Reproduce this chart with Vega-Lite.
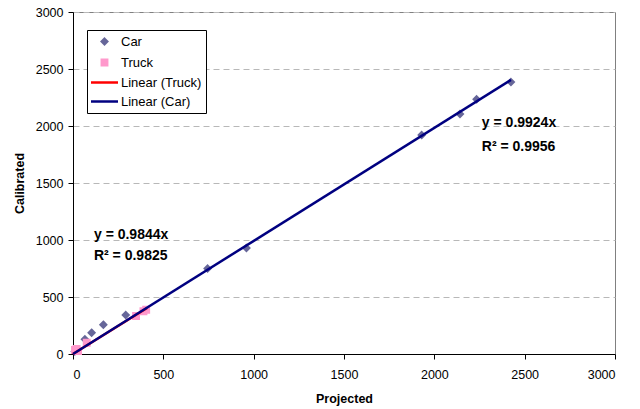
{
  "$schema": "https://vega.github.io/schema/vega-lite/v6.json",
  "width": 542,
  "height": 342,
  "autosize": {"type": "none"},
  "padding": {"left": 73, "top": 12, "right": 25, "bottom": 55},
  "background": "white",
  "config": {
    "font": "Liberation Sans",
    "view": {"stroke": "#808080", "strokeWidth": 1},
    "axis": {
      "labelFont": "Liberation Sans",
      "labelFontSize": 12.5,
      "labelColor": "black",
      "titleFont": "Liberation Sans",
      "titleFontSize": 12.5,
      "titleFontWeight": "bold",
      "titleColor": "black",
      "domainColor": "black",
      "tickColor": "black",
      "tickSize": 5,
      "format": "d"
    },
    "legend": {
      "title": null,
      "orient": "none",
      "legendX": 14,
      "legendY": 18,
      "symbolSize": 144,
      "symbolStrokeWidth": 2.5,
      "labelFontSize": 13,
      "labelFont": "Liberation Sans",
      "labelColor": "black",
      "strokeColor": "black",
      "fillColor": "white",
      "padding": 4,
      "rowPadding": 4,
      "symbolOffset": 6,
      "labelOffset": 9
    }
  },
  "datasets": {
    "pts": [
      {"series": "Car", "projected": 10, "calibrated": 22},
      {"series": "Car", "projected": 66, "calibrated": 129},
      {"series": "Car", "projected": 103, "calibrated": 187},
      {"series": "Car", "projected": 168, "calibrated": 257},
      {"series": "Car", "projected": 292, "calibrated": 342},
      {"series": "Car", "projected": 745, "calibrated": 750},
      {"series": "Car", "projected": 960, "calibrated": 930},
      {"series": "Car", "projected": 1930, "calibrated": 1921},
      {"series": "Car", "projected": 2142, "calibrated": 2105},
      {"series": "Car", "projected": 2234, "calibrated": 2234},
      {"series": "Car", "projected": 2424, "calibrated": 2386},
      {"series": "Truck", "projected": 11, "calibrated": 35},
      {"series": "Truck", "projected": 28, "calibrated": 26},
      {"series": "Truck", "projected": 20, "calibrated": 45},
      {"series": "Truck", "projected": 76, "calibrated": 99},
      {"series": "Truck", "projected": 349, "calibrated": 333},
      {"series": "Truck", "projected": 390, "calibrated": 375},
      {"series": "Truck", "projected": 405, "calibrated": 388}
    ],
    "lines": [
      {"series": "Linear (Truck)", "projected": 0, "calibrated": 0},
      {"series": "Linear (Truck)", "projected": 410, "calibrated": 404},
      {"series": "Linear (Car)", "projected": 0, "calibrated": 0},
      {"series": "Linear (Car)", "projected": 2424, "calibrated": 2405}
    ],
    "labels": [
      {"projected": 116, "calibrated": 1044, "text": "y = 0.9844x"},
      {"projected": 116, "calibrated": 860, "text": "R² = 0.9825"},
      {"projected": 2263, "calibrated": 2026, "text": "y = 0.9924x"},
      {"projected": 2263, "calibrated": 1816, "text": "R² = 0.9956"}
    ]
  },
  "encoding": {
    "x": {
      "field": "projected", "type": "quantitative",
      "scale": {"domain": [0, 3000], "nice": false},
      "axis": {"title": "Projected", "values": [0, 500, 1000, 1500, 2000, 2500, 3000], "grid": false, "labelPadding": 9, "titlePadding": 12}
    },
    "y": {
      "field": "calibrated", "type": "quantitative",
      "scale": {"domain": [0, 3000], "nice": false},
      "axis": {"title": "Calibrated", "values": [0, 500, 1000, 1500, 2000, 2500, 3000], "grid": true, "gridColor": "#b8b8b8", "gridDash": [6, 4], "labelPadding": 5, "titlePadding": 9}
    }
  },
  "layer": [
    {
      "data": {"name": "pts"},
      "mark": {"type": "point", "filled": false, "opacity": 1, "size": 144, "strokeWidth": 2.5},
      "encoding": {
        "color": {
          "field": "series", "type": "nominal",
          "scale": {"domain": ["Car", "Truck", "Linear (Truck)", "Linear (Car)"], "range": ["#666699", "#ff99cc", "#ff0000", "#000080"]},
          "legend": {}
        },
        "shape": {
          "field": "series", "type": "nominal",
          "scale": {"domain": ["Car", "Truck", "Linear (Truck)", "Linear (Car)"], "range": ["M0,-0.45L0.45,0L0,0.45L-0.45,0ZM0,-0.15L0.15,0L0,0.15L-0.15,0Z", "M-0.45,-0.45H0.45V0.45H-0.45ZM-0.1,-0.1H0.1V0.1H-0.1Z", "M-2.25,0H2.25", "M-2.25,0H2.25"]},
          "legend": {}
        }
      }
    },
    {
      "data": {"name": "lines"},
      "mark": {"type": "line", "strokeWidth": 2.5},
      "encoding": {
        "detail": {"field": "series"},
        "stroke": {"field": "series", "type": "nominal", "scale": {"domain": ["Linear (Truck)", "Linear (Car)"], "range": ["#ff0000", "#000080"]}, "legend": null}
      }
    },
    {
      "data": {"name": "labels"},
      "mark": {"type": "text", "align": "left", "baseline": "middle", "font": "Liberation Sans", "fontSize": 14, "fontWeight": "bold", "color": "black"},
      "encoding": {"text": {"field": "text"}}
    }
  ]
}
